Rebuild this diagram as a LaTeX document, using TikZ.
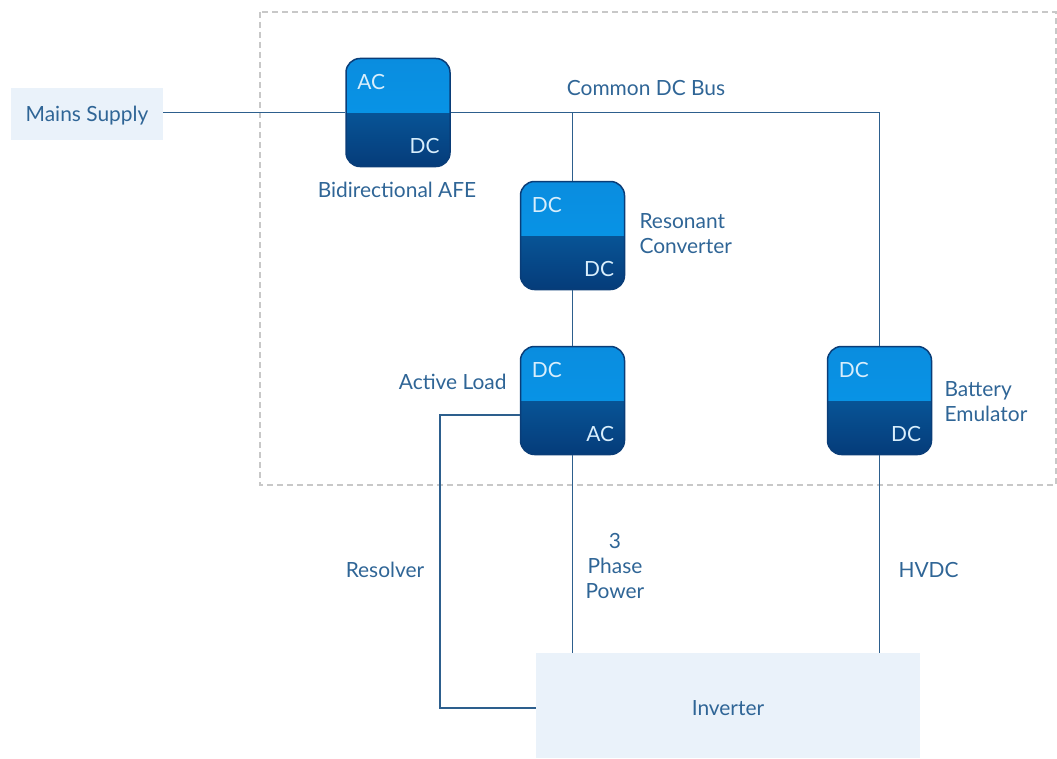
\documentclass[tikz,border=0pt]{standalone}
\usepackage{fontspec}
\setmainfont{Lato}
\usetikzlibrary{positioning}

\definecolor{txtblue}{HTML}{2F6596}
\definecolor{wireblue}{HTML}{2D5F8D}
\definecolor{boxfill}{HTML}{EAF2FA}
\definecolor{convedge}{HTML}{0A3D78}
\definecolor{convtop}{HTML}{0A8DDF}
\definecolor{convmid}{HTML}{0699EC}
\definecolor{convlow}{HTML}{0A6CB2}
\definecolor{convbot}{HTML}{053C7A}
\definecolor{convlabel}{HTML}{D8EEFC}
\definecolor{dashgrey}{HTML}{C8C8C8}

\tikzset{
  conv/.style 2 args={draw=convedge, line width=1.5bp, rounded corners=14bp,
    minimum width=104bp, minimum height=108bp, inner sep=0pt,
    top color=convlow, bottom color=convbot,
    path picture={\fill[sharp corners, top color=convtop, bottom color=convmid]
      (path picture bounding box.north west) rectangle (path picture bounding box.east);},
    label={[convtxt, anchor=north west, xshift=12bp, yshift=-16bp]north west:#1},
    label={[convtxt, anchor=south east, xshift=-11bp, yshift=13bp]south east:#2}},
  convtxt/.style={text=convlabel, inner sep=0pt},
  plainbox/.style={fill=boxfill, inner sep=0pt},
  txt/.style={text=txtblue, align=center},
  wire/.style={draw=wireblue, line width=1.2bp}
}

\begin{document}
\begin{tikzpicture}[x=1bp, y=-1bp, font=\fontsize{21}{25.5}\selectfont]
  \useasboundingbox (0,0) rectangle (1057,759);
  \draw[dashgrey, line width=1.5bp, dash pattern=on 6bp off 4bp] (260,12) rectangle (1056,485);

  % converters
  \node[conv={AC}{DC}] (afe) at (398,112.5) {};
  \node[conv={DC}{DC}] (reso) at (572.5,235.5) {};
  \node[conv={DC}{AC}] (load) at (572.5,400.5) {};
  \node[conv={DC}{DC}] (batt) at (879.5,400.5) {};

  % outside boxes
  \node[plainbox, minimum width=152bp, minimum height=52bp] (mains) at (87,114) {};
  \node[txt] at (87,116) {Mains Supply};
  \node[plainbox, minimum width=384bp, minimum height=105bp] (inv) at (728,705.5) {};
  \node[txt] at (728,708) {Inverter};

  % labels
  \node[txt] (busname) at (646,88) {Common DC Bus};
  \node[txt] (afename) at (397,190) {Bidirectional AFE};
  \node[txt, anchor=west, align=left] (resoname) at (636,233.5) {Resonant\\Converter};
  \node[txt, anchor=east] (loadname) at (510,382) {Active Load};
  \node[txt, anchor=west, align=left] (battname) at (941,401.5) {Battery\\Emulator};
  \node[txt] (resolvname) at (385,570) {Resolver};
  \node[txt] (phasename) at (615,566) {3\\Phase\\Power};
  \node[txt, anchor=west] (hvdcname) at (895,570) {HVDC};

  % wiring
  \coordinate (resolv) at (440,415);
  \coordinate (invin) at (536,708);
  \path[wire]
    (mains.east |- afe.west) -- (afe.west)
    (afe.east) -- (afe.east -| batt) -- (batt.north)
    (reso.north |- afe.east) -- (reso.north)
    (reso.south) -- (load.north)
    (load.south) -- (load.south |- inv.north)
    (batt.south) -- (batt.south |- inv.north)
    (load.west |- resolv) -- (resolv) |- (invin)
    ;
\end{tikzpicture}
\end{document}
